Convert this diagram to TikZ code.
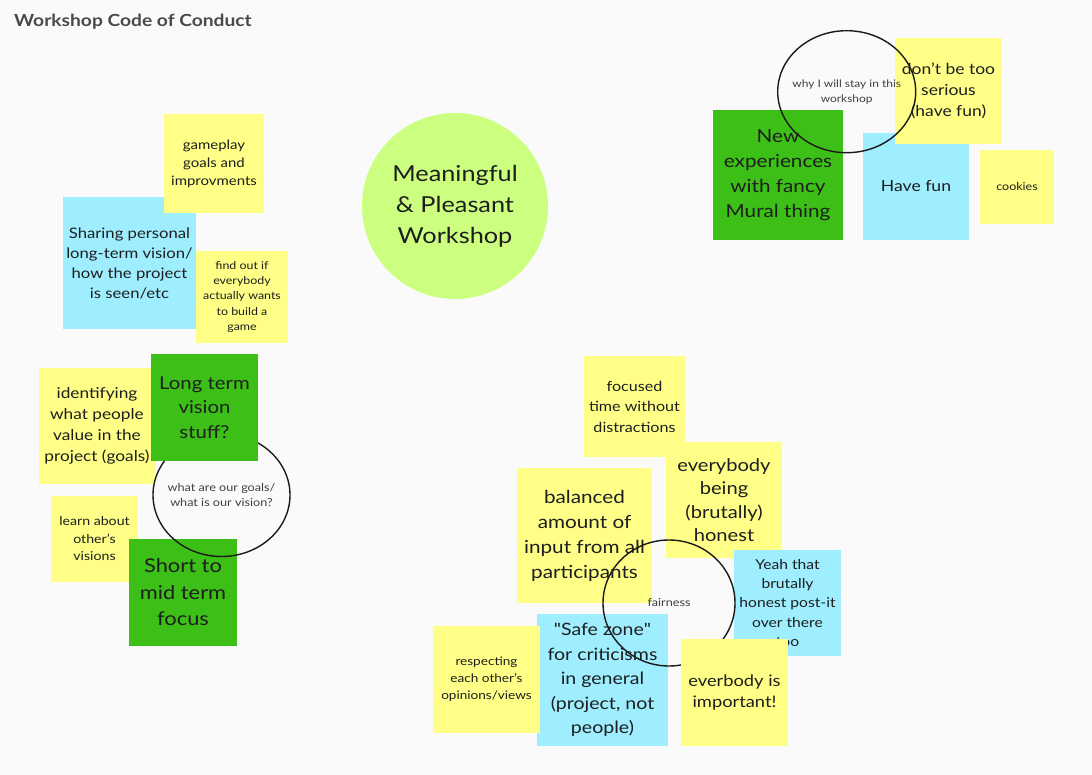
\documentclass[tikz,border=0pt]{standalone}
\usepackage{fontspec}
\setmainfont{Lato}[FakeStretch=1.15]
\newfontfamily\plainq{Lato}[FakeStretch=1.15]
\usetikzlibrary{shapes.geometric}
\definecolor{bgc}{HTML}{FAFAFA}
\definecolor{sy}{HTML}{FFFF88}
\definecolor{sb}{HTML}{9EEEFF}
\definecolor{sg}{HTML}{3CBF16}
\definecolor{lg}{HTML}{CCFF80}
\definecolor{txt}{HTML}{1E1E1E}
\definecolor{titlec}{HTML}{4A4A4A}
\definecolor{circ}{HTML}{1A1A1A}
\newcommand{\fsz}[2]{\fontsize{#1}{#2}\selectfont}
\newcommand{\sq}{{\plainq\char34}}
\begin{document}
\begin{tikzpicture}[x=1pt,y=-1pt]
\tikzset{
  sticky/.style={rectangle, inner sep=0pt, align=center, text=txt},
  yel/.style={sticky, fill=sy},
  blu/.style={sticky, fill=sb},
  grn/.style={sticky, fill=sg},
  ring/.style={ellipse, draw=circ, line width=1.4pt, inner sep=0pt},
  ringlabel/.style={inner sep=0pt, align=center, text=txt!85},
}
\fill[bgc] (0,0) rectangle (1092,775);
\useasboundingbox (0,0) rectangle (1092,775);

\node[anchor=base west, inner sep=0pt, font=\bfseries\fsz{16.7}{19}, text=titlec] (title) at (14,26.5) {Workshop Code of Conduct};

% central circle
\node[circle, fill=lg, minimum size=186pt, inner sep=0pt, align=center, text=txt, font=\fsz{22}{31}] (main) at (455,206) {Meaningful\\\& Pleasant\\Workshop};

% left cluster
\node[blu, minimum width=133pt, minimum height=132pt, font=\fsz{14.5}{20}] (sharing) at (129.5,263) {Sharing personal\\long-term vision/\\how the project\\is seen/etc};
\node[yel, minimum width=100pt, minimum height=99pt, font=\fsz{13}{18}] (gameplay) at (214,163.5) {gameplay\\goals and\\improvments};
\node[yel, minimum width=92pt, minimum height=92pt, font=\fsz{10.8}{15.3}] (findout) at (242,297) {find out if\\everybody\\actually wants\\to build a\\game};
\node[yel, minimum width=116pt, minimum height=116pt, font=\fsz{15}{21}] (identifying) at (97,426) {identifying\\what people\\value in the\\project (goals)};
\node[yel, minimum width=87pt, minimum height=86pt, font=\fsz{12.3}{17.5}] (learn) at (94.5,539) {learn about\\other's\\visions};
\node[grn, minimum width=108pt, minimum height=107pt, font=\fsz{19}{26.5}] (short) at (183,592.5) {Short to\\mid term\\focus};
\node[ring, minimum width=137pt, minimum height=123pt] (goals) at (221.5,495) {};
\node[ringlabel, font=\fsz{11}{14.5}] (goalslbl) at (goals.center) {what are our goals/\\what is our vision?};
\node[grn, minimum width=107pt, minimum height=107pt, font=\fsz{17.7}{24.5}] (longterm) at (204.5,407.5) {Long term\\vision\\stuff?};

% top right cluster
\node[grn, minimum width=130pt, minimum height=130pt, font=\fsz{18}{25}] (newexp) at (778,175) {New\\experiences\\with fancy\\Mural thing};
\node[blu, minimum width=106pt, minimum height=107pt, font=\fsz{15.3}{20}] (havefun) at (916,186.5) {Have fun};
\node[yel, minimum width=107pt, minimum height=106pt, font=\fsz{15.2}{21}] (serious) at (948.5,91) {don't be too\\serious\\(have fun)};
\node[yel, minimum width=74pt, minimum height=74pt, font=\fsz{10.9}{14}] (cookies) at (1017,187) {cookies};
\node[ring, minimum width=138pt, minimum height=122pt] (stay) at (846.7,91.7) {};
\node[ringlabel, font=\fsz{10.4}{15}] (staylbl) at (stay.center) {why I will stay in this\\workshop};

% bottom cluster
\node[yel, minimum width=101pt, minimum height=101pt, font=\fsz{14}{20.5}] (focused) at (634.5,406.5) {focused\\time without\\distractions};
\node[yel, minimum width=116pt, minimum height=116pt, font=\fsz{17.5}{23.5}] (honest) at (724,500) {everybody\\being\\(brutally)\\honest};
\node[yel, minimum width=135pt, minimum height=135pt, font=\fsz{18}{25}] (balanced) at (584.5,535.5) {balanced\\amount of\\input from all\\participants};
\node[blu, minimum width=107pt, minimum height=106pt, font=\fsz{13.6}{19.3}] (yeah) at (787.5,603) {Yeah that\\brutally\\honest post-it\\over there\\too};
\node[blu, minimum width=131pt, minimum height=132pt, font=\fsz{17}{24.5}] (safe) at (602.5,680) {\sq Safe zone\sq\\for criticisms\\in general\\(project, not\\people)};
\node[yel, minimum width=107pt, minimum height=107pt, font=\fsz{11.8}{17}] (respecting) at (486.5,679.5) {respecting\\each other's\\opinions/views};
\node[ring, minimum width=132pt, minimum height=126pt] (fairness) at (669,603) {};
\node[ringlabel, font=\fsz{11}{12}] (fairlbl) at (fairness.center) {fairness};
\node[yel, minimum width=107pt, minimum height=107pt, font=\fsz{15.9}{21}] (everbody) at (734.5,692.5) {everbody is\\important!};
\end{tikzpicture}
\end{document}
